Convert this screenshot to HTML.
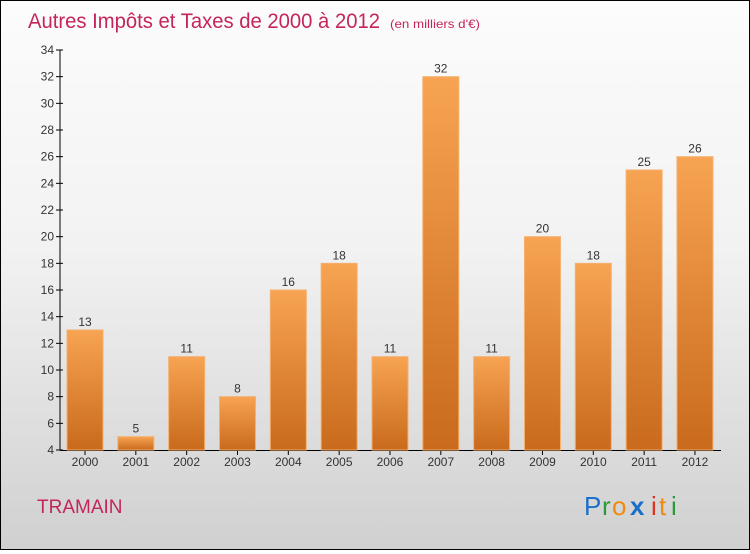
<!DOCTYPE html>
<html><head><meta charset="utf-8"><style>
html,body{margin:0;padding:0}
body{width:750px;height:550px;overflow:hidden;font-family:"Liberation Sans",sans-serif}
#wrap{position:relative;width:748px;height:548px;border:1px solid #000;background:linear-gradient(#fcfcfc 0%,#f2f2f2 45%,#d0d0d0 100%)}
</style></head><body>
<div id="wrap">
<svg id="chart" width="748" height="548">
<defs><linearGradient id="bg" x1="0" y1="0" x2="0" y2="1"><stop offset="0" stop-color="#f7a452"/><stop offset="1" stop-color="#c96a1c"/></linearGradient></defs>
<text x="27" y="27" font-size="21" fill="#c4255b" textLength="352" lengthAdjust="spacingAndGlyphs">Autres Impôts et Taxes de 2000 à 2012</text>
<text x="389" y="27" font-size="12" fill="#c4255b" textLength="90" lengthAdjust="spacingAndGlyphs">(en milliers d'€)</text>
<text x="36" y="512" font-size="19" fill="#c4255b">TRAMAIN</text>
<g font-size="26">
<text x="583" y="514" fill="#1a6fc9">P</text><text x="601" y="514" fill="#2a9a3a">r</text><text x="611" y="514" fill="#f08a10">o</text><text x="629" y="514" fill="#1a6fc9" font-weight="bold">x</text><text x="650" y="514" fill="#e03020">i</text><text x="658" y="514" fill="#f08a10">t</text><text x="670" y="514" fill="#2a9a3a">i</text>
</g>
<g id="axes"></g><g id="bars"></g>
</svg></div>
<script>
const years=["2000","2001","2002","2003","2004","2005","2006","2007","2008","2009","2010","2011","2012"];
const values=[13,5,11,8,16,18,11,32,11,20,18,25,26];
const yTicks=[4,6,8,10,12,14,16,18,20,22,24,26,28,30,32,34];
const NS="http://www.w3.org/2000/svg";
const y0=449,yMin=4,yMax=34,yTop=49;
function y(v){return y0-(v-yMin)/(yMax-yMin)*(y0-yTop);}
function x(i){return 84+i*50.83;}
function mk(t,a,p){const e=document.createElementNS(NS,t);for(const k in a)e.setAttribute(k,a[k]);p.appendChild(e);return e;}
const ax=document.getElementById('axes'),bs=document.getElementById('bars');
const yl=mk('line',{x1:59,y1:y(yMax),x2:59,y2:y0,stroke:'#000'},ax);


const xl=mk('line',{x1:59,y1:y0+0.5,x2:720,y2:y0+0.5,stroke:'#000'},ax);


yTicks.forEach(t=>{
 mk('line',{x1:55,y1:y(t),x2:62,y2:y(t),stroke:'#000'},ax);
 const tx=mk('text',{x:53,y:y(t)+4,'font-size':12,'text-anchor':'end',fill:'#333'},ax);tx.textContent=t;
 
 
});
years.forEach((yr,i)=>{
 const v=values[i];
 const r=mk('rect',{x:x(i)-18,y:y(v),width:36,height:y0-y(v),fill:'url(#bg)',stroke:'#f5b070','stroke-width':1},bs);
 
 
 const lb=mk('text',{x:x(i),y:y(v)-4,'font-size':12,'text-anchor':'middle',fill:'#333'},bs);lb.textContent=v;
 
 
 mk('line',{x1:x(i),y1:y0,x2:x(i),y2:y0+5,stroke:'#000'},ax);
 const xt=mk('text',{x:x(i),y:y0+16,'font-size':12,'text-anchor':'middle',fill:'#333'},ax);xt.textContent=yr;
 
 
});
</script>
</body></html>
